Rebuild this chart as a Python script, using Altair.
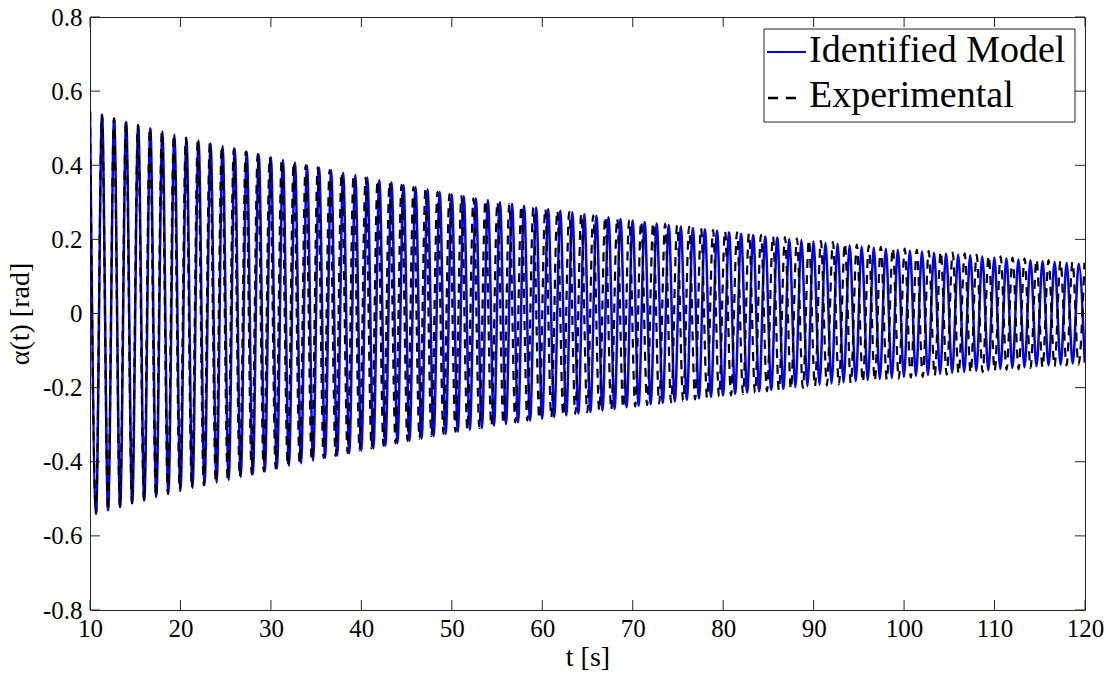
import altair as alt
import pandas as pd

# ---------------- data ----------------
# successive extrema (peak / trough) of the identified model, time [s] and alpha [rad]
model_t = [
    10.00, 10.67, 11.33, 12.00, 12.67, 13.33, 14.00, 14.67, 15.33, 16.00,
    16.67, 17.33, 18.00, 18.66, 19.33, 20.00, 20.66, 21.33, 22.00, 22.66,
    23.33, 24.00, 24.66, 25.33, 26.00, 26.66, 27.33, 28.00, 28.66, 29.33,
    30.00, 30.66, 31.33, 31.99, 32.66, 33.33, 33.99, 34.66, 35.33, 35.99,
    36.66, 37.33, 37.99, 38.66, 39.33, 39.99, 40.66, 41.33, 41.99, 42.66,
    43.33, 43.99, 44.66, 45.32, 45.99, 46.66, 47.32, 47.99, 48.66, 49.32,
    49.99, 50.66, 51.32, 51.99, 52.66, 53.32, 53.99, 54.66, 55.32, 55.99,
    56.66, 57.32, 57.99, 58.65, 59.32, 59.99, 60.65, 61.32, 61.99, 62.65,
    63.32, 63.99, 64.65, 65.32, 65.99, 66.65, 67.32, 67.99, 68.65, 69.32,
    69.99, 70.65, 71.32, 71.98, 72.65, 73.32, 73.98, 74.65, 75.32, 75.98,
    76.65, 77.32, 77.98, 78.65, 79.32, 79.98, 80.65, 81.32, 81.98, 82.65,
    83.32, 83.98, 84.65, 85.31, 85.98, 86.65, 87.31, 87.98, 88.65, 89.31,
    89.98, 90.65, 91.31, 91.98, 92.65, 93.31, 93.98, 94.65, 95.31, 95.98,
    96.65, 97.31, 97.98, 98.64, 99.31, 99.98, 100.64, 101.31, 101.98, 102.64,
    103.31, 103.98, 104.64, 105.31, 105.98, 106.64, 107.31, 107.98, 108.64, 109.31,
    109.98, 110.64, 111.31, 111.97, 112.64, 113.31, 113.97, 114.64, 115.31, 115.97,
    116.64, 117.31, 117.97, 118.64, 119.31, 119.97,
]
model_a = [
    0.545, -0.540, 0.536, -0.531, 0.526, -0.522, 0.517, -0.512, 0.508, -0.504,
    0.499, -0.495, 0.491, -0.487, 0.482, -0.478, 0.474, -0.470, 0.467, -0.463,
    0.459, -0.456, 0.452, -0.449, 0.445, -0.441, 0.437, -0.434, 0.430, -0.426,
    0.422, -0.418, 0.415, -0.411, 0.408, -0.404, 0.400, -0.397, 0.394, -0.390,
    0.387, -0.384, 0.380, -0.377, 0.374, -0.370, 0.367, -0.364, 0.360, -0.357,
    0.354, -0.350, 0.347, -0.344, 0.341, -0.338, 0.335, -0.331, 0.328, -0.325,
    0.322, -0.319, 0.317, -0.314, 0.311, -0.309, 0.306, -0.303, 0.301, -0.298,
    0.296, -0.294, 0.291, -0.289, 0.286, -0.284, 0.282, -0.279, 0.277, -0.275,
    0.273, -0.270, 0.268, -0.266, 0.264, -0.262, 0.260, -0.258, 0.255, -0.253,
    0.251, -0.249, 0.247, -0.245, 0.243, -0.241, 0.239, -0.237, 0.235, -0.233,
    0.231, -0.229, 0.227, -0.225, 0.223, -0.221, 0.219, -0.217, 0.215, -0.213,
    0.212, -0.210, 0.208, -0.206, 0.205, -0.203, 0.201, -0.199, 0.198, -0.196,
    0.194, -0.192, 0.191, -0.189, 0.188, -0.186, 0.184, -0.183, 0.181, -0.180,
    0.178, -0.177, 0.175, -0.174, 0.172, -0.171, 0.170, -0.168, 0.167, -0.166,
    0.164, -0.163, 0.162, -0.160, 0.159, -0.158, 0.157, -0.155, 0.154, -0.153,
    0.151, -0.150, 0.149, -0.147, 0.146, -0.145, 0.144, -0.142, 0.141, -0.140,
    0.139, -0.138, 0.136, -0.135, 0.134, -0.133,
]

# successive extrema of the experimental record
exp_t = [
    10.00, 10.66, 11.32, 11.99, 12.65, 13.31, 13.97, 14.64, 15.30, 15.96,
    16.62, 17.29, 17.95, 18.61, 19.27, 19.93, 20.60, 21.26, 21.92, 22.58,
    23.25, 23.91, 24.57, 25.23, 25.90, 26.56, 27.22, 27.88, 28.54, 29.21,
    29.87, 30.53, 31.19, 31.86, 32.52, 33.18, 33.84, 34.51, 35.17, 35.83,
    36.49, 37.15, 37.82, 38.48, 39.14, 39.80, 40.47, 41.13, 41.79, 42.45,
    43.12, 43.78, 44.44, 45.10, 45.76, 46.43, 47.09, 47.75, 48.41, 49.08,
    49.74, 50.40, 51.06, 51.72, 52.39, 53.05, 53.71, 54.37, 55.04, 55.70,
    56.36, 57.02, 57.69, 58.35, 59.01, 59.67, 60.33, 61.00, 61.66, 62.32,
    62.98, 63.65, 64.31, 64.97, 65.63, 66.30, 66.96, 67.62, 68.28, 68.94,
    69.61, 70.27, 70.93, 71.59, 72.26, 72.92, 73.58, 74.24, 74.91, 75.57,
    76.23, 76.89, 77.55, 78.22, 78.88, 79.54, 80.20, 80.87, 81.53, 82.19,
    82.85, 83.52, 84.18, 84.84, 85.50, 86.16, 86.83, 87.49, 88.15, 88.81,
    89.48, 90.14, 90.80, 91.46, 92.13, 92.79, 93.45, 94.11, 94.77, 95.44,
    96.10, 96.76, 97.42, 98.09, 98.75, 99.41, 100.07, 100.74, 101.40, 102.06,
    102.72, 103.38, 104.05, 104.71, 105.37, 106.03, 106.70, 107.36, 108.02, 108.68,
    109.35, 110.01, 110.67, 111.33, 111.99, 112.66, 113.32, 113.98, 114.64, 115.31,
    115.97, 116.63, 117.29, 117.96, 118.62, 119.28, 119.94,
]
exp_a = [
    0.545, -0.540, 0.536, -0.531, 0.526, -0.522, 0.517, -0.512, 0.508, -0.504,
    0.499, -0.495, 0.491, -0.487, 0.482, -0.478, 0.474, -0.470, 0.467, -0.463,
    0.459, -0.456, 0.452, -0.449, 0.445, -0.441, 0.437, -0.434, 0.430, -0.426,
    0.422, -0.418, 0.415, -0.411, 0.408, -0.404, 0.400, -0.397, 0.394, -0.390,
    0.387, -0.384, 0.380, -0.377, 0.374, -0.370, 0.367, -0.364, 0.360, -0.357,
    0.354, -0.350, 0.347, -0.344, 0.341, -0.338, 0.335, -0.331, 0.328, -0.325,
    0.322, -0.319, 0.317, -0.314, 0.311, -0.309, 0.306, -0.303, 0.301, -0.298,
    0.296, -0.294, 0.291, -0.289, 0.286, -0.284, 0.283, -0.280, 0.278, -0.276,
    0.274, -0.271, 0.269, -0.267, 0.265, -0.263, 0.262, -0.260, 0.257, -0.255,
    0.253, -0.251, 0.249, -0.247, 0.245, -0.243, 0.242, -0.240, 0.238, -0.236,
    0.234, -0.232, 0.230, -0.228, 0.226, -0.224, 0.223, -0.221, 0.219, -0.217,
    0.216, -0.214, 0.212, -0.210, 0.209, -0.207, 0.206, -0.204, 0.203, -0.201,
    0.199, -0.197, 0.196, -0.194, 0.193, -0.191, 0.189, -0.188, 0.186, -0.185,
    0.183, -0.182, 0.180, -0.179, 0.177, -0.176, 0.175, -0.173, 0.172, -0.171,
    0.169, -0.168, 0.167, -0.165, 0.164, -0.163, 0.162, -0.160, 0.159, -0.158,
    0.156, -0.155, 0.154, -0.152, 0.151, -0.150, 0.149, -0.147, 0.146, -0.145,
    0.144, -0.143, 0.141, -0.140, 0.139, -0.138, 0.137,
]

x_ticks = [10, 20, 30, 40, 50, 60, 70, 80, 90, 100, 110, 120]
y_ticks = [-0.8, -0.6, -0.4, -0.2, 0.0, 0.2, 0.4, 0.6, 0.8]
series_names = ["Identified Model", "Experimental"]

# ---------------- chart ----------------
W, H = 995, 593
SERIF = "Liberation Serif"
INK = "#262626"
TL = 10  # inward tick length

df_model = pd.DataFrame({"t": model_t, "a": model_a})
df_exp = pd.DataFrame({"t": exp_t, "a": exp_a})
df_xt = pd.DataFrame({"t": x_ticks})
df_yt = pd.DataFrame({"a": y_ticks})
df_one = pd.DataFrame({"k": [0]})

xs = alt.Scale(domain=[10, 120], nice=False, zero=False)
ys = alt.Scale(domain=[-0.8, 0.8], nice=False, zero=False)

x_axis = alt.Axis(values=x_ticks, title="t [s]", labelPadding=6, titlePadding=2,
                  labelFlush=False, labelOverlap=False)
y_axis = alt.Axis(
    values=y_ticks, title="α(t) [rad]", labelPadding=8, titlePadding=8,
    labelFlush=False, labelOverlap=False,
    labelExpr="abs(datum.value) < 1e-9 ? '0' : (datum.value < 0 ? '-' + format(-datum.value, '.1f') : format(datum.value, '.1f'))",
)

X = alt.X("t:Q", scale=xs, axis=x_axis)
Y = alt.Y("a:Q", scale=ys, axis=y_axis)

model_line = alt.Chart(df_model).mark_line(
    color="#0000ff", strokeWidth=2.5, interpolate="monotone", clip=True
).encode(x=X, y=Y)

exp_line = alt.Chart(df_exp).mark_line(
    color="black", strokeWidth=2.2, strokeDash=[9, 7], interpolate="monotone", clip=True
).encode(x=X, y=Y)

xt_bottom = alt.Chart(df_xt).mark_rule(color=INK, strokeWidth=1).encode(
    x=X, y=alt.value(H), y2=alt.value(H - TL))
xt_top = alt.Chart(df_xt).mark_rule(color=INK, strokeWidth=1).encode(
    x=X, y=alt.value(0), y2=alt.value(TL))
yt_left = alt.Chart(df_yt).mark_rule(color=INK, strokeWidth=1).encode(
    y=Y, x=alt.value(0), x2=alt.value(TL))
yt_right = alt.Chart(df_yt).mark_rule(color=INK, strokeWidth=1).encode(
    y=Y, x=alt.value(W - TL), x2=alt.value(W))

# legend
leg_box = alt.Chart(df_one).mark_rect(fill="white", stroke=INK, strokeWidth=1).encode(
    x=alt.value(674), x2=alt.value(985), y=alt.value(12), y2=alt.value(105))
leg_l1 = alt.Chart(df_one).mark_rule(color="#0000ff", strokeWidth=2).encode(
    x=alt.value(677), x2=alt.value(716), y=alt.value(35))
leg_l2 = alt.Chart(df_one).mark_rule(color="black", strokeWidth=2.5, strokeDash=[10, 8]).encode(
    x=alt.value(678), x2=alt.value(706), y=alt.value(81))
leg_t1 = alt.Chart(df_one).mark_text(
    align="left", baseline="alphabetic", font=SERIF, fontSize=38, color="black"
).encode(x=alt.value(719), y=alt.value(45), text=alt.value(series_names[0]))
leg_t2 = alt.Chart(df_one).mark_text(
    align="left", baseline="alphabetic", font=SERIF, fontSize=38, color="black"
).encode(x=alt.value(719), y=alt.value(90), text=alt.value(series_names[1]))

chart = alt.layer(
    model_line, exp_line, xt_bottom, xt_top, yt_left, yt_right,
    leg_box, leg_l1, leg_l2, leg_t1, leg_t2,
).properties(
    width=W, height=H,
    padding={"left": 90, "top": 17, "right": 21, "bottom": 65},
    autosize=alt.AutoSizeParams(type="none"),
    background="white",
).configure_view(
    stroke=INK, strokeWidth=1
).configure_axis(
    ticks=False, domain=False, grid=False,
    labelFont=SERIF, labelFontSize=25, labelColor="black",
    titleFont=SERIF, titleFontSize=28, titleFontWeight="normal", titleColor="black",
)

chart.save("out.html", embed_options={"renderer": "svg", "actions": False})
